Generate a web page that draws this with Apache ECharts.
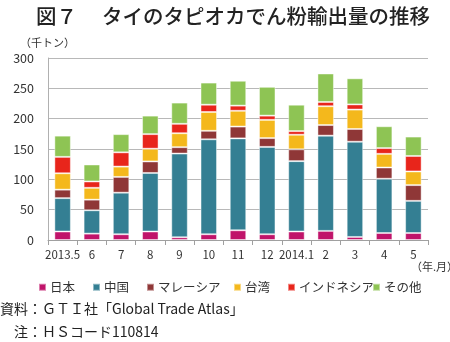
<!DOCTYPE html>
<html><head><meta charset="utf-8">
<script src="https://cdn.jsdelivr.net/npm/echarts@6/dist/echarts.min.js"></script>
<style>html,body{margin:0;padding:0;background:#fff}#c{width:450px;height:342px}</style>
</head><body><div id="c"></div>
<script>
const categories = ['2013.5','6','7','8','9','10','11','12','2014.1','2','3','4','5'];
const japan     = [14, 10.5, 9.5, 14, 4.5, 9.5, 16, 9.5, 14, 15, 5, 11.5, 11.5];
const china     = [55, 38.5, 68.5, 96.5, 138, 156.5, 151.5, 144, 116, 157, 157, 89.5, 53];
const malaysia  = [14, 17.5, 26, 19, 10.5, 14, 19.5, 14.5, 19.5, 17.5, 21, 18.5, 26];
const taiwan    = [27, 19.5, 17, 21, 23, 31, 26, 30, 24, 31, 32, 22.5, 22.5];
const indonesia = [27, 10.5, 23.5, 24, 15.5, 12, 8.5, 7, 6, 7, 8.5, 9.5, 25.5];
const others    = [35, 28, 30, 30.5, 35, 36.5, 41, 47.5, 43.5, 47, 43, 36, 32];
const seriesNames = ['日本','中国','マレーシア','台湾','インドネシア','その他'];
const yTicks = [0, 50, 100, 150, 200, 250, 300];

const FONT = '"Noto Sans CJK JP", "Noto Sans", sans-serif';
const colors = ['#c0146a','#347f93','#8f3737','#f4b81c','#e8251b','#8ec454'];
const dataSets = [japan, china, malaysia, taiwan, indonesia, others];
const legendLefts = [38, 92, 146, 233, 287, 372];

const chart = echarts.init(document.getElementById('c'), null, {renderer:'canvas'});
chart.setOption({
  animation: false,
  textStyle: {fontFamily: FONT},
  color: colors,
  title: {
    text: '図７　 タイのタピオカでん粉輸出量の推移',
    left: 31, top: 1,
    textStyle: {fontFamily: FONT, fontSize: 20.5, fontWeight: 500, color: '#222'}
  },
  legend: seriesNames.map((n, i) => ({
    data: [n], left: legendLefts[i], top: 281,
    itemWidth: 7, itemHeight: 7, itemGap: 4, icon: 'rect',
    textStyle: {fontFamily: FONT, fontSize: 12.5, color: '#333', padding: [0,0,0,-1]},
    padding: 0, selectedMode: false
  })),
  grid: {left: 48, right: 22, top: 58, bottom: 102, containLabel: false},
  xAxis: {
    type: 'category', data: categories,
    axisLine: {lineStyle: {color: '#a0a0a0', width: 1}},
    axisTick: {show: true, length: 5, lineStyle: {color: '#a0a0a0'}},
    axisLabel: {color: '#333', fontSize: 11.5, margin: 9, interval: 0, fontFamily: FONT}
  },
  yAxis: {
    type: 'value', min: yTicks[0], max: yTicks[yTicks.length-1], interval: 50,
    axisLine: {show: true, lineStyle: {color: '#b0b0b0'}},
    axisTick: {show: false},
    splitLine: {lineStyle: {color: '#b8b8b8', width: 1}},
    axisLabel: {color: '#333', fontSize: 12.5, margin: 14, fontFamily: FONT}
  },
  graphic: [
    {type: 'text', left: 20, top: 37, style: {text: '（千トン）', fontSize: 11, fill: '#333', fontFamily: FONT}},
    {type: 'text', left: 411, top: 261, style: {text: '（年.月）', fontSize: 11, fill: '#333', fontFamily: FONT}},
    {type: 'text', left: 0, top: 302, style: {text: '資料：ＧＴＩ社「Global Trade Atlas」', fontSize: 14, fill: '#222', fontFamily: FONT}},
    {type: 'text', left: 14, top: 325, style: {text: '注：ＨＳコード110814', fontSize: 14, fill: '#222', fontFamily: FONT}}
  ],
  series: seriesNames.map((n, i) => ({
    name: n, type: 'bar', stack: 'total', data: dataSets[i],
    barWidth: 16.5,
    itemStyle: {color: colors[i], borderColor: 'rgba(255,255,255,0.45)', borderWidth: 1}
  }))
});
</script></body></html>
